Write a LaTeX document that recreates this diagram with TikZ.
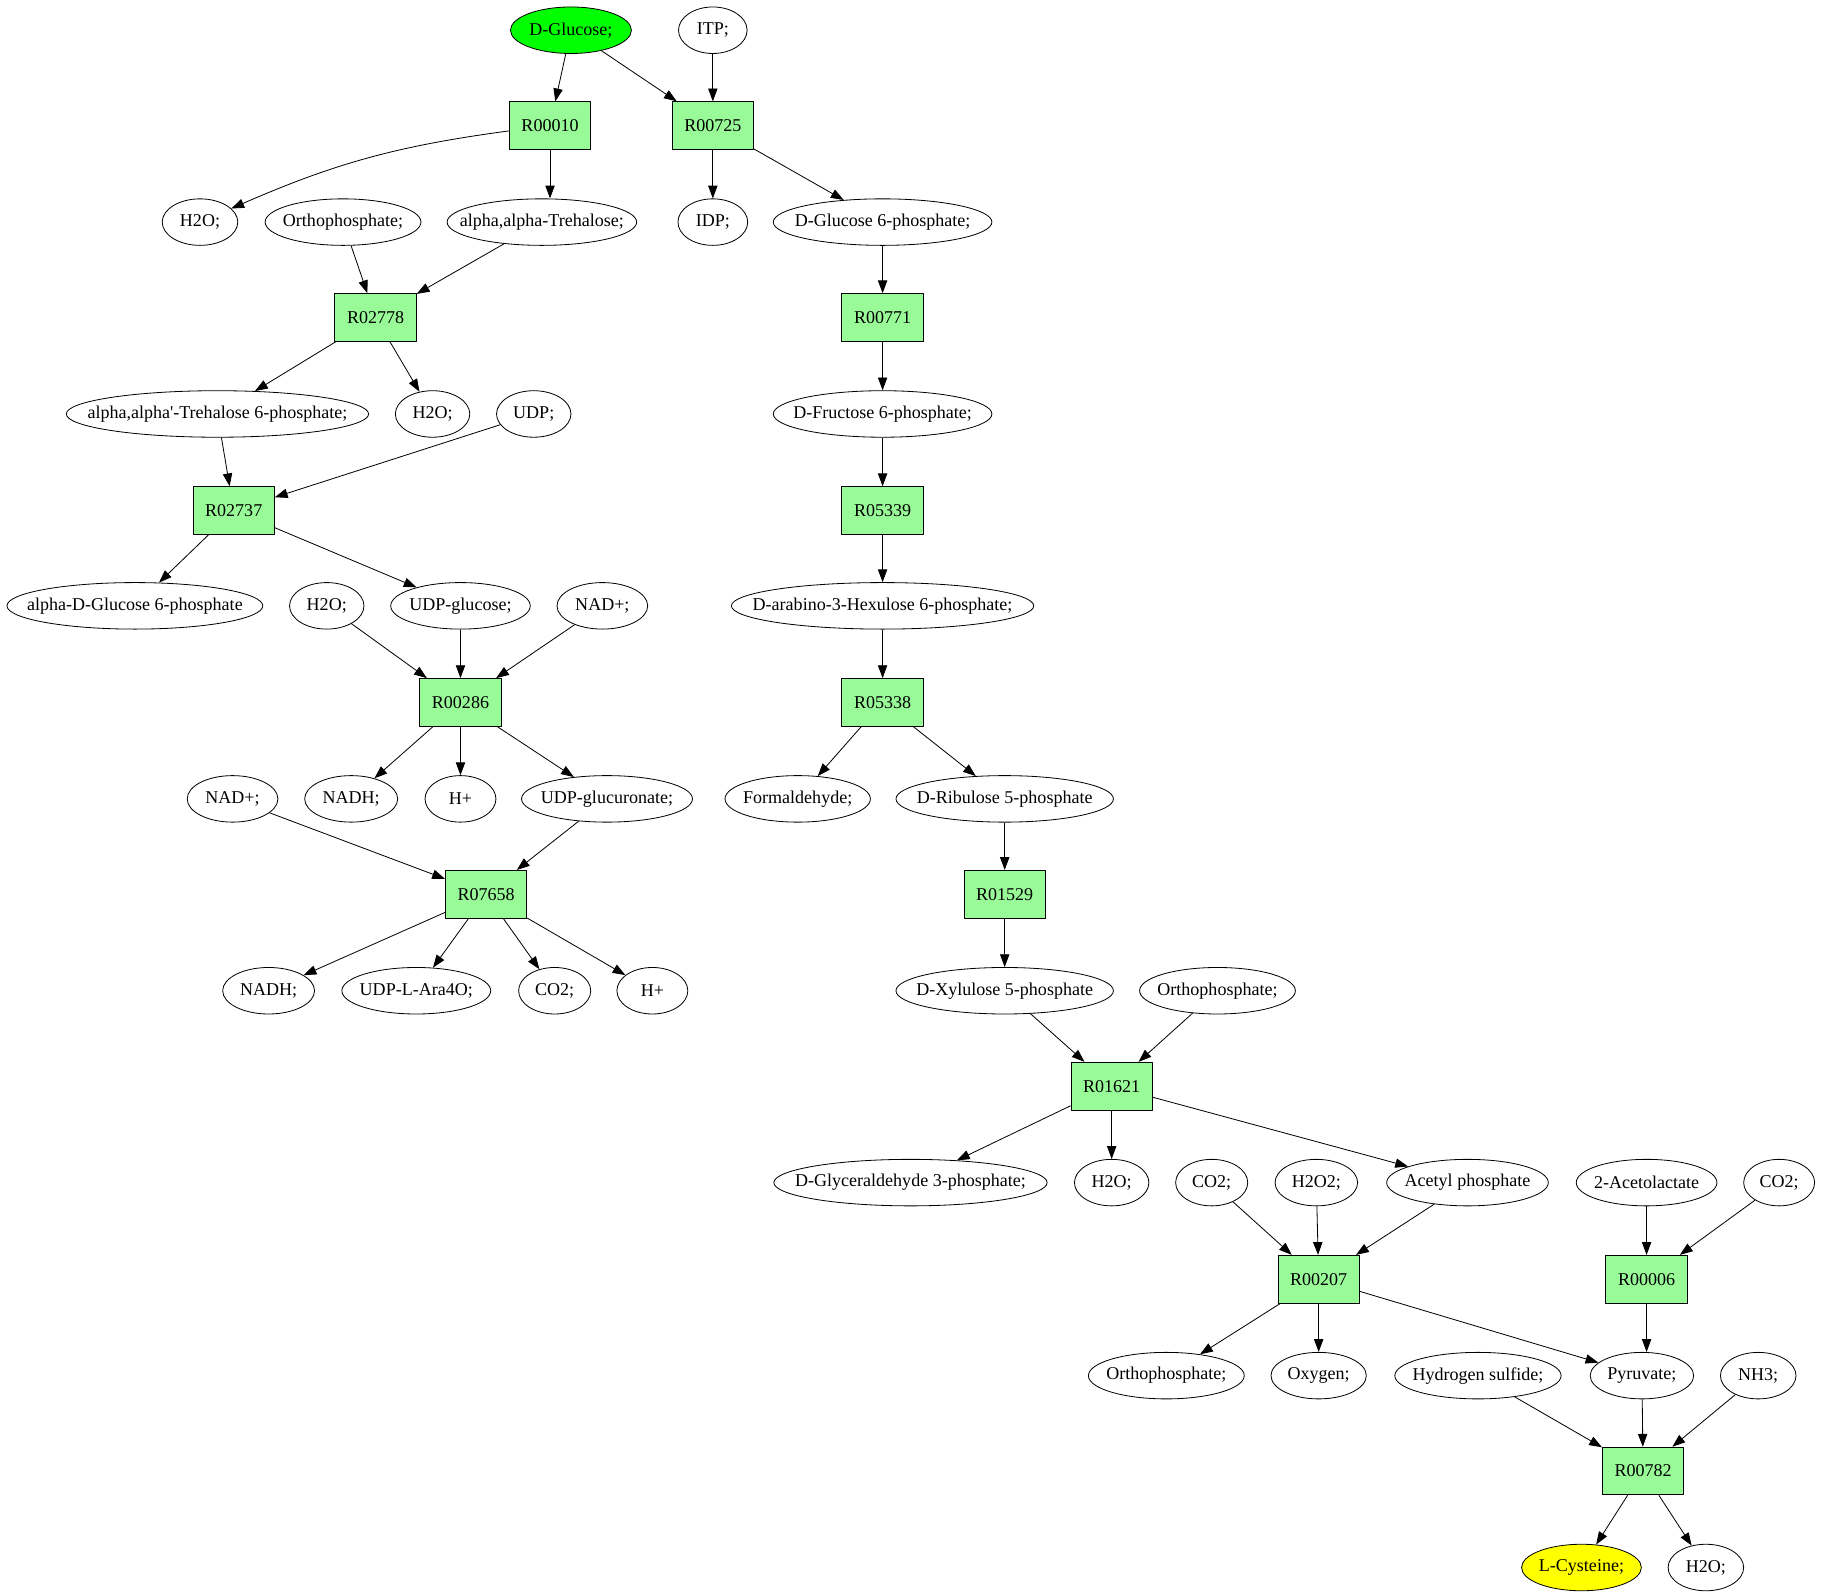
\documentclass[tikz,border=0pt]{standalone}
\usepackage{fontspec}
\setmainfont{Liberation Serif}
\usetikzlibrary{arrows.meta,shapes.geometric}
\definecolor{rxngreen}{HTML}{98FB98}
\definecolor{startgreen}{HTML}{00FF00}
\definecolor{endyellow}{HTML}{FFFF00}

\begin{document}
\begin{tikzpicture}[x=1pt,y=-1pt,line join=round,
  met/.style={draw,ellipse,line width=.7pt,inner xsep=-200pt,inner ysep=-30pt,
    minimum height=40pt,minimum width=#1,font=\fontsize{15.5}{18}\selectfont},
  rxn/.style={draw,rectangle,line width=.7pt,fill=rxngreen,inner sep=0pt,
    minimum width=70pt,minimum height=41pt,font=\fontsize{15.5}{18}\selectfont},
  arr/.style={-{Triangle[length=11pt,width=8pt]},line width=.7pt}]
\useasboundingbox (0,0) rectangle (1566,1372);
% row 1-2
\node[met=104,fill=startgreen] (glc) at (491,26) {D-Glucose;};
\node[met=59] (itp) at (613,26) {ITP;};
\node[rxn] (r00010) at (473,108) {R00010};
\node[rxn] (r00725) at (613,108) {R00725};
% row 3-4
\node[met=65] (h2oA) at (172,191) {H2O;};
\node[met=134] (piA) at (295,191) {Orthophosphate;};
\node[met=163] (tre) at (466,191) {alpha,alpha-Trehalose;};
\node[met=60] (idp) at (613,191) {IDP;};
\node[met=188] (g6p) at (759,191) {D-Glucose 6-phosphate;};
\node[rxn] (r02778) at (323,273) {R02778};
\node[rxn] (r00771) at (759,273) {R00771};
% row 5-6
\node[met=260] (t6p) at (187,356) {alpha,alpha\textquotesingle-Trehalose 6-phosphate;};
\node[met=64] (h2oB) at (372,356) {H2O;};
\node[met=64] (udp) at (459,356) {UDP;};
\node[met=188] (f6p) at (759,356) {D-Fructose 6-phosphate;};
\node[rxn] (r02737) at (201,439) {R02737};
\node[rxn] (r05339) at (759,439) {R05339};
% row 7-8
\node[met=220] (ag6p) at (116,521) {alpha-D-Glucose 6-phosphate};
\node[met=64] (h2oC) at (281,521) {H2O;};
\node[met=120] (udpglc) at (396,521) {UDP-glucose;};
\node[met=78] (nadA) at (518,521) {NAD+;};
\node[met=260] (hex6p) at (759,521) {D-arabino-3-Hexulose 6-phosphate;};
\node[rxn] (r00286) at (396,604) {R00286};
\node[rxn] (r05338) at (759,604) {R05338};
% row 9-10
\node[met=78] (nadB) at (200,687) {NAD+;};
\node[met=80] (nadhA) at (302,687) {NADH;};
\node[met=61] (hA) at (396,687) {H+};
\node[met=147] (udpgla) at (522,687) {UDP-glucuronate;};
\node[met=125] (form) at (686,687) {Formaldehyde;};
\node[met=187] (ru5p) at (864,687) {D-Ribulose 5-phosphate};
\node[rxn] (r07658) at (418,769) {R07658};
\node[rxn] (r01529) at (864,769) {R01529};
% row 11-12
\node[met=79] (nadhB) at (231,852) {NADH;};
\node[met=128] (ara4o) at (358,852) {UDP-L-Ara4O;};
\node[met=62] (co2A) at (477,852) {CO2;};
\node[met=61] (hB) at (561,852) {H+};
\node[met=187] (xu5p) at (864,852) {D-Xylulose 5-phosphate};
\node[met=134] (piB) at (1047,852) {Orthophosphate;};
\node[rxn] (r01621) at (956,934) {R01621};
% row 13-14
\node[met=235] (ga3p) at (783,1017) {D-Glyceraldehyde 3-phosphate;};
\node[met=64] (h2oD) at (956,1017) {H2O;};
\node[met=62] (co2B) at (1042,1017) {CO2;};
\node[met=71] (h2o2) at (1132,1017) {H2O2;};
\node[met=139] (acp) at (1262,1017) {Acetyl phosphate};
\node[met=121] (acl) at (1416,1017) {2-Acetolactate};
\node[met=61] (co2C) at (1530,1017) {CO2;};
\node[rxn] (r00207) at (1134,1100) {R00207};
\node[rxn] (r00006) at (1416,1100) {R00006};
% row 15-17
\node[met=134] (piC) at (1003,1183) {Orthophosphate;};
\node[met=82] (oxy) at (1134,1183) {Oxygen;};
\node[met=143] (h2s) at (1271,1183) {Hydrogen sulfide;};
\node[met=89] (pyr) at (1412,1183) {Pyruvate;};
\node[met=65] (nh3) at (1512,1183) {NH3;};
\node[rxn] (r00782) at (1413,1265) {R00782};
\node[met=103,fill=endyellow] (cys) at (1360,1348) {L-Cysteine;};
\node[met=65] (h2oE) at (1467,1348) {H2O;};
% edges
\draw[arr] (r00010) to[bend right=8] (h2oA);
\draw[arr] (r00010.south) -- (r00010.south |- tre.north);
\draw[arr] (r00006.south) -- (r00006.south |- pyr.north);
\foreach \a/\b in {glc/r00010,glc/r00725,itp/r00725,r00725/idp,r00725/g6p,
  piA/r02778,tre/r02778,r02778/t6p,r02778/h2oB,t6p/r02737,udp/r02737,
  r02737/ag6p,r02737/udpglc,h2oC/r00286,udpglc/r00286,nadA/r00286,
  r00286/nadhA,r00286/hA,r00286/udpgla,nadB/r07658,udpgla/r07658,
  r07658/nadhB,r07658/ara4o,r07658/co2A,r07658/hB,
  g6p/r00771,r00771/f6p,f6p/r05339,r05339/hex6p,hex6p/r05338,r05338/form,r05338/ru5p,
  ru5p/r01529,r01529/xu5p,xu5p/r01621,piB/r01621,
  r01621/ga3p,r01621/h2oD,r01621/acp,co2B/r00207,h2o2/r00207,acp/r00207,
  r00207/piC,r00207/oxy,r00207/pyr,co2C/r00006,
  h2s/r00782,pyr/r00782,nh3/r00782,r00782/cys,r00782/h2oE,acl/r00006}
  \draw[arr] (\a)--(\b);
\end{tikzpicture}
\end{document}
